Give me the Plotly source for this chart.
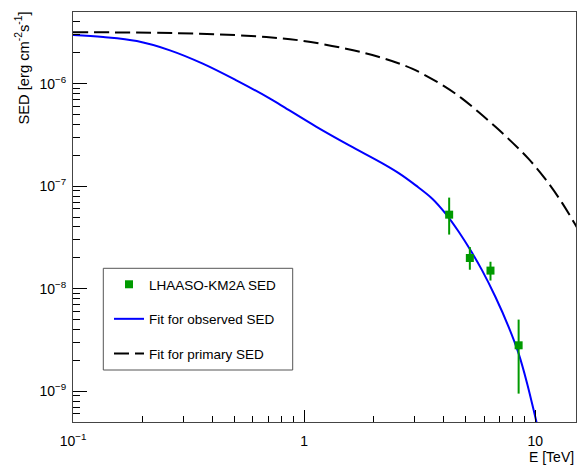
import plotly.graph_objects as go

# ---- data ----
obs_E = [4.24, 5.21, 6.40, 8.47]
obs_sed = [5.27e-8, 1.99e-8, 1.50e-8, 2.80e-9]
obs_sed_hi = [7.73e-8, 2.55e-8, 1.83e-8, 4.99e-9]
obs_sed_lo = [3.37e-8, 1.53e-8, 1.20e-8, 9.46e-10]

fit_obs_E = [0.1, 0.1351, 0.1888, 0.2627, 0.3643, 0.509, 0.7086, 0.8088, 1.126, 1.568,
             2.182, 2.575, 3.04, 3.584, 4.094, 4.672, 5.247, 5.887, 6.725, 7.673,
             8.472, 9.2, 10.0, 10.33]
fit_obs_sed = [2.98e-6, 2.85e-6, 2.603e-6, 2.113e-6, 1.567e-6, 1.077e-6, 7.19e-7, 6.005e-7,
               3.815e-7, 2.50e-7, 1.669e-7, 1.333e-7, 1.018e-7, 7.55e-8, 5.39e-8, 3.565e-8,
               2.364e-8, 1.508e-8, 8.28e-9, 4.22e-9, 2.322e-9, 1.21e-9, 5.59e-10, 4.1e-10]

fit_prim_E = [0.1, 0.3538, 0.6858, 0.9543, 1.517, 2.112, 2.93, 4.094, 4.827, 5.697,
              6.725, 7.904, 9.357, 11.04, 13.02, 14.87, 17.0]
fit_prim_sed = [3.18e-6, 3.074e-6, 2.848e-6, 2.644e-6, 2.195e-6, 1.817e-6, 1.40e-6, 9.26e-7,
                7.14e-7, 5.25e-7, 3.79e-7, 2.705e-7, 1.846e-7, 1.178e-7, 6.95e-8, 4.24e-8, 2.55e-8]

x_tick_vals = [0.1, 1, 10]
x_tick_text = ["10<sup>\u22121</sup>", "1", "10"]
y_tick_vals = [1e-9, 1e-8, 1e-7, 1e-6]
y_tick_text = ["10<sup>\u22129</sup>", "10<sup>\u22128</sup>", "10<sup>\u22127</sup>", "10<sup>\u22126</sup>"]

x_minor = [k * 10.0 ** n for n in (-1, 0, 1) for k in range(2, 10) if k * 10.0 ** n <= 15]
y_minor = [k * 10.0 ** n for n in (-10, -9, -8, -7, -6) for k in range(2, 10)
           if 5e-10 <= k * 10.0 ** n <= 5e-6]

FONT = "Liberation Sans, Arial, Helvetica, sans-serif"
GREEN = "#009a00"

# plot area in pixels: x 73..576, y 12..422
W, H = 580, 472
ML, MR, MT, MB = 73, 4, 12, 50
PW, PH = W - ML - MR, H - MT - MB


def px_x(p):
    return (p - ML) / PW


def px_y(p):
    return (H - MB - p) / PH


fig = go.Figure()

fig.add_trace(go.Scatter(
    x=fit_prim_E, y=fit_prim_sed, mode="lines", name="Fit for primary SED",
    line=dict(color="black", width=2, dash="15px,6px", shape="spline"),
    legendgroup="c", legendrank=3))

fig.add_trace(go.Scatter(
    x=fit_obs_E, y=fit_obs_sed, mode="lines", name="Fit for observed SED",
    line=dict(color="#0000ff", width=2, shape="spline"),
    legendgroup="b", legendrank=2))

fig.add_trace(go.Scatter(
    x=obs_E, y=obs_sed, mode="markers", name="LHAASO-KM2A SED",
    marker=dict(symbol="square", size=8, color=GREEN),
    error_y=dict(type="data", symmetric=False,
                 array=[h - v for h, v in zip(obs_sed_hi, obs_sed)],
                 arrayminus=[v - l for l, v in zip(obs_sed_lo, obs_sed)],
                 width=0, thickness=2, color=GREEN),
    legendgroup="a", legendrank=1))

axis_common = dict(
    type="log", showgrid=False, zeroline=False,
    showline=True, linecolor="#444", linewidth=1, mirror=True,
    ticks="inside", tickcolor="black", tickwidth=1,
    tickfont=dict(family=FONT, size=14, color="black"),
)

fig.update_xaxes(**axis_common, range=[-1, 1.1761],
                 tickmode="array", tickvals=x_tick_vals, ticktext=x_tick_text,
                 ticklen=12, ticklabelstandoff=6,
                 minor=dict(tickmode="array", tickvals=x_minor, ticks="inside",
                            ticklen=6, tickcolor="black", tickwidth=1))
fig.update_yaxes(**axis_common, range=[-9.301, -5.301],
                 tickmode="array", tickvals=y_tick_vals, ticktext=y_tick_text,
                 ticklen=14, ticklabelstandoff=3,
                 minor=dict(tickmode="array", tickvals=y_minor, ticks="inside",
                            ticklen=7, tickcolor="black", tickwidth=1))

fig.update_layout(
    width=W, height=H,
    margin=dict(l=ML, r=MR, t=MT, b=MB),
    paper_bgcolor="white", plot_bgcolor="white",
    font=dict(family=FONT, size=14, color="black"),
    legend=dict(x=px_x(109), y=px_y(269), xanchor="left", yanchor="top",
                borderwidth=0, bgcolor="rgba(0,0,0,0)",
                font=dict(family=FONT, size=13.5, color="black"),
                tracegroupgap=14, traceorder="grouped"),
    shapes=[dict(type="rect", xref="paper", yref="paper",
                 x0=px_x(103.3), x1=px_x(292.7), y0=px_y(370), y1=px_y(268.3),
                 line=dict(color="#555", width=1), fillcolor="white", layer="above")],
    annotations=[
        dict(text="SED [erg cm<sup>-2</sup>s<sup>-1</sup>]", textangle=-90,
             xref="paper", yref="paper", x=px_x(22), y=px_y(10),
             xanchor="center", yanchor="top", showarrow=False,
             font=dict(family=FONT, size=14.7, color="black")),
        dict(text="E [TeV]", xref="paper", yref="paper", x=1.0, y=px_y(456.7),
             xanchor="right", yanchor="middle", showarrow=False,
             font=dict(family=FONT, size=14, color="black")),
    ],
)

fig.write_html("out.html", config={"displayModeBar": False},
               post_script="document.body.style.margin='0';")
